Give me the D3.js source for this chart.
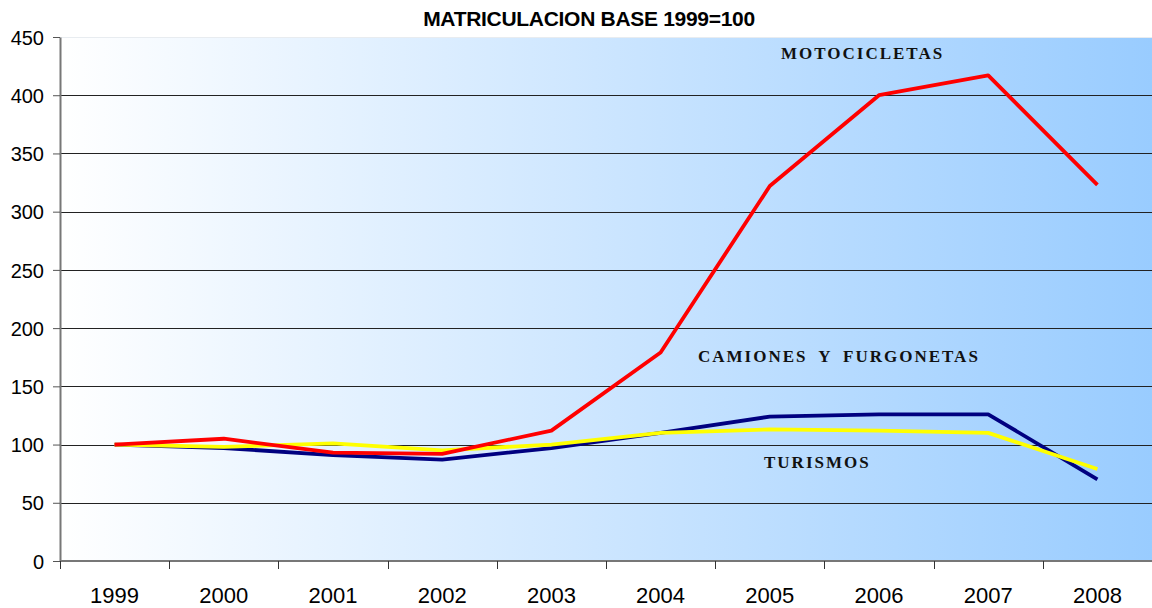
<!DOCTYPE html>
<html>
<head>
<meta charset="utf-8">
<script src="https://cdn.jsdelivr.net/npm/d3@7"></script>
<style>
  body { margin: 0; background: #fff; }
  svg { display: block; }
</style>
</head>
<body>
<div id="chart"></div>
<script>
// years on the x axis
var years = ["1999", "2000", "2001", "2002", "2003", "2004", "2005", "2006", "2007", "2008"];

// index values, base 1999 = 100
var motocicletas = [100, 105, 93, 92, 112, 179, 322, 400, 417, 323];
var camiones = [100, 97, 91, 87, 97, 110, 124, 126, 126, 70];
var turismos = [100, 98, 101, 95, 100, 110, 113, 112, 110, 79];

var yTicks = [0, 50, 100, 150, 200, 250, 300, 350, 400, 450];

var series = [
    { name: "motocicletas", values: motocicletas, color: "#FF0000" },
    { name: "camiones", values: camiones, color: "#000080" },
    { name: "turismos", values: turismos, color: "#FFFF00" }
];

// labels placed in the plot like the original
var labels = [
    { text: "MOTOCICLETAS", x: 781, y: 59 },
    { text: "CAMIONES Y FURGONETAS", x: 698, y: 362 },
    { text: "TURISMOS", x: 764, y: 468 }
];

var width = 1152, height = 608;
var margin = { top: 37, right: 0, bottom: 47, left: 60 };

var svg = d3.select("#chart").append("svg")
    .attr("width", width)
    .attr("height", height);

var x = d3.scaleBand()
    .domain(years)
    .range([margin.left, width - margin.right]);

var y = d3.scaleLinear()
    .domain([0, 450])
    .range([height - margin.bottom, margin.top]);

//background gradient, white to light blue
var grad = svg.append("defs").append("linearGradient")
    .attr("id", "bg")
    .attr("x1", "0%").attr("x2", "100%")
    .attr("y1", "0%").attr("y2", "0%");
grad.append("stop").attr("offset", "0%").attr("stop-color", "#FFFFFF");
grad.append("stop").attr("offset", "100%").attr("stop-color", "#99CCFF");

svg.append("rect")
    .attr("x", margin.left)
    .attr("y", margin.top)
    .attr("width", width - margin.left - margin.right)
    .attr("height", y(0) - margin.top)
    .attr("fill", "url(#bg)");

// gridlines
svg.append("g")
    .selectAll("line")
    .data(yTicks.filter(function (d) { return d > 0; }))
    .enter().append("line")
    .attr("x1", margin.left)
    .attr("x2", width - margin.right)
    .attr("y1", function (d) { return Math.round(y(d)) + 0.5; })
    .attr("y2", function (d) { return Math.round(y(d)) + 0.5; })
    .attr("stroke", function (d) { return d === 450 ? "#e8ecf0" : "#222"; })
    .attr("stroke-width", 1);

// y axis
var yAxis = svg.append("g")
    .attr("transform", "translate(" + margin.left + ",0)")
    .call(d3.axisLeft(y).tickValues(yTicks).tickSize(7).tickSizeOuter(0));
yAxis.select(".domain").attr("stroke", "#777").attr("stroke-width", 2);
yAxis.selectAll(".tick line").attr("stroke", "#555");
yAxis.selectAll("text")
    .attr("font-family", "Liberation Sans, Arial, sans-serif")
    .attr("font-size", "20px")
    .attr("fill", "#000")
    .attr("x", -16)
    .attr("dy", "0.36em");

// x axis, ticks between categories
var xAxis = svg.append("g")
    .attr("transform", "translate(0," + y(0) + ")");
xAxis.append("line")
    .attr("x1", margin.left).attr("x2", width)
    .attr("stroke", "#777").attr("stroke-width", 2);
xAxis.selectAll(".tk")
    .data(years)
    .enter().append("line")
    .attr("class", "tk")
    .attr("x1", function (d) { return Math.round(x(d)) + 0.5; })
    .attr("x2", function (d) { return Math.round(x(d)) + 0.5; })
    .attr("y1", 0).attr("y2", 8)
    .attr("stroke", "#333");
xAxis.selectAll("text")
    .data(years)
    .enter().append("text")
    .attr("x", function (d) { return x(d) + x.bandwidth() / 2; })
    .attr("y", 42)
    .attr("text-anchor", "middle")
    .attr("font-family", "Liberation Sans, Arial, sans-serif")
    .attr("font-size", "22px")
    .attr("fill", "#000")
    .text(function (d) { return d; });

// lines
var line = d3.line()
    .x(function (d, i) { return x(years[i]) + x.bandwidth() / 2; })
    .y(function (d) { return y(d); });

svg.append("g")
    .selectAll("path")
    .data([series[1], series[2], series[0]])
    .enter().append("path")
    .attr("d", function (d) { return line(d.values); })
    .attr("fill", "none")
    .attr("stroke", function (d) { return d.color; })
    .attr("stroke-width", 3.8)
    .attr("stroke-linejoin", "round");

// labels in plot
svg.append("g")
    .selectAll("text")
    .data(labels)
    .enter().append("text")
    .attr("x", function (d) { return d.x; })
    .attr("y", function (d) { return d.y; })
    .attr("font-family", "Liberation Serif, Times New Roman, serif")
    .attr("font-weight", "bold")
    .attr("font-size", "17px")
    .attr("letter-spacing", "2px")
    .attr("word-spacing", "5px")
    .attr("fill", "#111")
    .text(function (d) { return d.text; });

// title
svg.append("text")
    .attr("x", 589)
    .attr("y", 26)
    .attr("text-anchor", "middle")
    .attr("font-family", "Liberation Sans, Arial, sans-serif")
    .attr("font-weight", "bold")
    .attr("font-size", "21px")
    .attr("letter-spacing", "-0.3px")
    .text("MATRICULACION BASE 1999=100");
</script>
</body>
</html>
